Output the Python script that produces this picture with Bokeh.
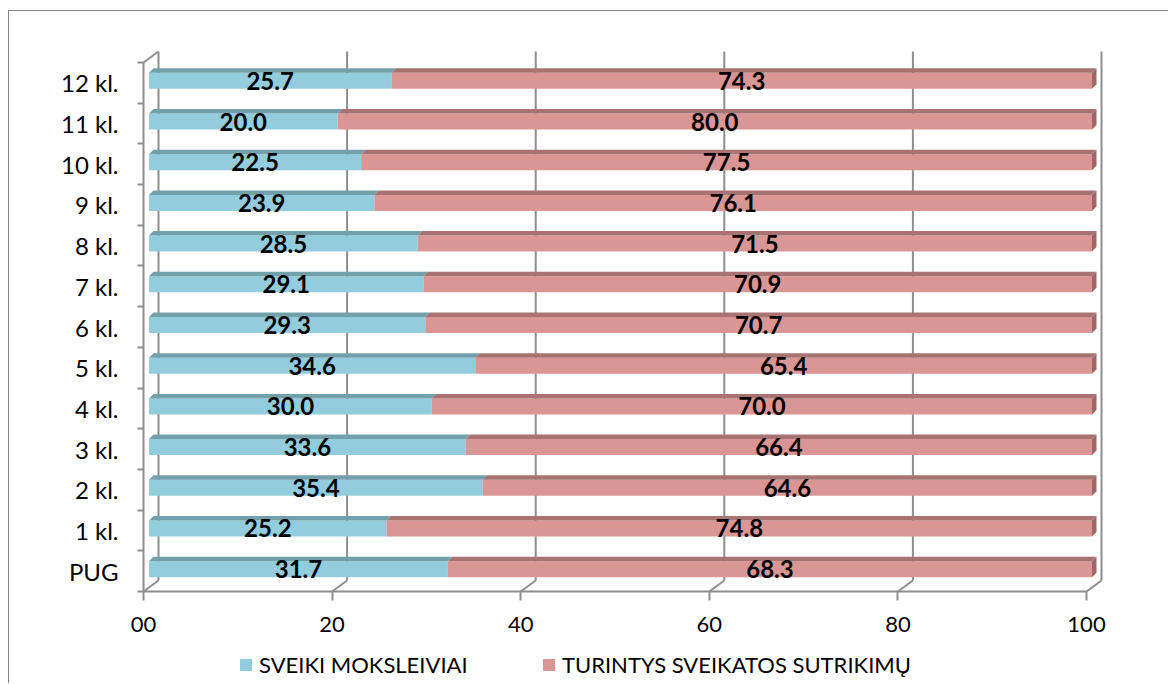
from bokeh.plotting import figure
from bokeh.models import Range1d, FixedTicker, Legend, LegendItem
from bokeh.core.properties import value
from bokeh.embed import file_html
from bokeh.resources import INLINE

# ---------------- data ----------------
categories = ["PUG", "1 kl.", "2 kl.", "3 kl.", "4 kl.", "5 kl.", "6 kl.",
              "7 kl.", "8 kl.", "9 kl.", "10 kl.", "11 kl.", "12 kl."]
healthy = [31.7, 25.2, 35.4, 33.6, 30.0, 34.6, 29.3, 29.1, 28.5, 23.9, 22.5, 20.0, 25.7]
disorders = [68.3, 74.8, 64.6, 66.4, 70.0, 65.4, 70.7, 70.9, 71.5, 76.1, 77.5, 80.0, 74.3]
series_names = ["SVEIKI MOKSLEIVIAI", "TURINTYS SVEIKATOS SUTRIKIMŲ"]
x_ticks = [0, 20, 40, 60, 80, 100]
x_tick_labels = ["00", "20", "40", "60", "80", "100"]

# ---------------- style ----------------
BLUE, BLUE_TOP = "#93CDDD", "#72A1AC"
PINK, PINK_TOP, PINK_SIDE = "#D99694", "#A87372", "#9E6866"
GRID = "#8E8E8E"
FONT = "Lato"

OX, OY = 9, 11                  # canvas origin on the page (after css margin + border)
W, H = 1160, 673
P_AXIS_X, P_AXIS_Y, P_TOP, P_RIGHT = 143, 591, 40, 1120
FR, FT = P_RIGHT - OX, P_TOP - OY
n = len(categories)
PX_X = 943 / 100.0
PX_Y = 529 / float(n)
x_start = -(P_AXIS_X - OX) / PX_X
x_end = (P_RIGHT - P_AXIS_X) / PX_X
y_lo, y_hi = -0.5, n - 0.5
y_end = y_lo + (P_AXIS_Y - P_TOP) / PX_Y
y_start = y_lo - (H - (P_AXIS_Y - OY)) / PX_Y


def dx(px):
    return px / PX_X


def dy(px):
    return px / PX_Y


p = figure(width=W, height=H, x_range=Range1d(x_start, x_end), y_range=Range1d(y_start, y_end),
           output_backend="svg", toolbar_location=None,
           min_border_left=0, min_border_right=W - FR,
           min_border_top=FT, min_border_bottom=0)
p.grid.visible = False
p.outline_line_color = None
p.background_fill_color = "white"
p.border_fill_color = "white"
p.styles = {"margin-left": "8px", "margin-top": "10px",
            "border-left": "1px solid #868686", "border-top": "1px solid #868686"}

# ---------------- 3D walls ----------------
off_x, off_y = dx(15), dy(11)
back_x = [t + off_x for t in x_ticks]
p.segment(x0=back_x, y0=[y_lo + off_y] * len(x_ticks), x1=back_x, y1=[y_hi + off_y] * len(x_ticks),
          line_color=GRID, line_width=2)
p.segment(x0=x_ticks, y0=[y_lo] * len(x_ticks), x1=back_x, y1=[y_lo + off_y] * len(x_ticks),
          line_color=GRID, line_width=2)
p.segment(x0=[x_ticks[0]], y0=[y_hi], x1=[x_ticks[0] + off_x], y1=[y_hi + off_y],
          line_color=GRID, line_width=2)

# ---------------- bars ----------------
fx = dx(5.5)
cy = dy(2)
hh = dy(16) / 2
ddx, ddy = dx(4.5), dy(4.5)

ys = list(range(n))
b_left = [0.0] * n
b_right = healthy
p_left = healthy
p_right = [a + b for a, b in zip(healthy, disorders)]


def top_faces(lefts, rights):
    xs, yy = [], []
    for i, l, r in zip(ys, lefts, rights):
        t = i + cy + hh
        xs.append([l + fx, r + fx, r + fx + ddx, l + fx + ddx])
        yy.append([t, t, t + ddy, t + ddy])
    return xs, yy


r_blue = p.quad(left=[l + fx for l in b_left], right=[r + fx for r in b_right],
                bottom=[i + cy - hh for i in ys], top=[i + cy + hh for i in ys],
                fill_color=BLUE, line_color=None)
r_pink = p.quad(left=[l + fx for l in p_left], right=[r + fx for r in p_right],
                bottom=[i + cy - hh for i in ys], top=[i + cy + hh for i in ys],
                fill_color=PINK, line_color=None)
xs, yy = top_faces(b_left, b_right)
p.patches(xs=xs, ys=yy, fill_color=BLUE_TOP, line_color=None)
xs, yy = top_faces(p_left, p_right)
p.patches(xs=xs, ys=yy, fill_color=PINK_TOP, line_color=None)
cap_x, cap_y = [], []
for i, r in zip(ys, p_right):
    b, t = i + cy - hh, i + cy + hh
    cap_x.append([r + fx, r + fx + ddx, r + fx + ddx, r + fx])
    cap_y.append([b, b + ddy, t + ddy, t])
p.patches(xs=cap_x, ys=cap_y, fill_color=PINK_SIDE, line_color=None)

# ---------------- data labels ----------------
p.text(x=[(l + r) / 2 + fx for l, r in zip(b_left, b_right)], y=[i + cy for i in ys],
       text=["%.1f" % v for v in healthy], text_align="center", text_baseline="middle",
       text_font=value(FONT), text_font_size="24px", text_font_style="bold", text_color="black")
p.text(x=[(l + r) / 2 + fx for l, r in zip(p_left, p_right)], y=[i + cy for i in ys],
       text=["%.1f" % v for v in disorders], text_align="center", text_baseline="middle",
       text_font=value(FONT), text_font_size="24px", text_font_style="bold", text_color="black")

# ---------------- axes ----------------
ya = p.yaxis[0]
ya.fixed_location = x_ticks[0]
ya.ticker = FixedTicker(ticks=ys, minor_ticks=[k - 0.5 for k in range(n + 1)])
ya.major_label_overrides = {i: c for i, c in enumerate(categories)}
ya.major_tick_line_color = None
ya.major_tick_out = 0
ya.major_tick_in = 0
ya.minor_tick_out = 6
ya.minor_tick_in = 0
ya.minor_tick_line_color = GRID
ya.minor_tick_line_width = 2
ya.axis_line_color = GRID
ya.axis_line_width = 2
ya.bounds = (y_lo, y_hi)
ya.major_label_standoff = 19
ya.major_label_text_font = FONT
ya.major_label_text_font_size = "24px"
ya.major_label_text_color = "black"

xa = p.xaxis[0]
xa.fixed_location = y_lo
xa.ticker = FixedTicker(ticks=x_ticks, minor_ticks=[])
xa.major_label_overrides = {t: s for t, s in zip(x_ticks, x_tick_labels)}
xa.major_tick_out = 9
xa.major_tick_in = 0
xa.major_tick_line_color = GRID
xa.major_tick_line_width = 2
xa.minor_tick_line_color = None
xa.axis_line_color = GRID
xa.axis_line_width = 2
xa.bounds = (x_ticks[0], x_ticks[-1])
xa.major_label_standoff = 16
xa.major_label_text_font = FONT
xa.major_label_text_font_size = "22px"
xa.major_label_text_color = "black"

# ---------------- legend ----------------
for rend, name, lx in [(r_blue, series_names[0], 238 - OX), (r_pink, series_names[1], 541 - OX)]:
    lg = Legend(items=[LegendItem(label=name, renderers=[rend])], location=(lx, 6),
                orientation="horizontal", padding=0, margin=0, border_line_color=None,
                background_fill_alpha=0, glyph_width=15, glyph_height=15, label_standoff=6,
                label_height=15, label_text_font=FONT, label_text_font_size="22px",
                label_text_color="black")
    p.add_layout(lg, "center")

open("out.html", "w").write(file_html(p, INLINE))
